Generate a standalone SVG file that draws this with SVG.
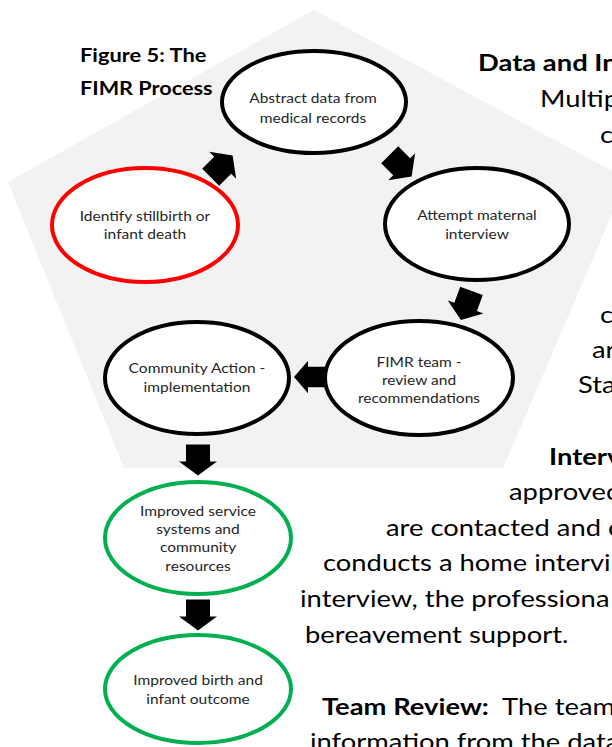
<svg xmlns="http://www.w3.org/2000/svg" width="612" height="747" viewBox="0 0 612 747">
<style>
.bg{fill:#f2f2f2}
.node{fill:#ffffff;stroke-width:4}
.blk{stroke:#000000}
.red{stroke:#ff0000}
.grn{stroke:#00b050}
.nt{font-family:Lato,"Open Sans","Liberation Sans",sans-serif;font-size:14px;fill:#262626;text-anchor:middle}
.body{font-family:Lato,"Open Sans","Liberation Sans",sans-serif;font-size:23px;fill:#000000}
.b{font-weight:bold}
.pre{white-space:pre}
.cap{font-family:Lato,"Open Sans","Liberation Sans",sans-serif;font-size:19px;font-weight:bold;fill:#000000}
.arr{fill:#000000}
</style>
<defs>
<path id="blockArrow" d="M-16,-12 L1,-12 L1,-19 L15,0 L1,19 L1,12 L-16,12 Z"/>
</defs>
<polygon class="bg" points="314,10 627,179 503,468 124,468 8,182"/>
<g id="caption">
<text class="cap" transform="translate(80,62) scale(1.15,1)">Figure 5: The</text>
<text class="cap" transform="translate(80,95) scale(1.14,1)">FIMR Process</text>
</g>
<g id="connectors">
<use href="#blockArrow" class="arr" transform="translate(222,166) rotate(-45)"/>
<use href="#blockArrow" class="arr" transform="translate(401,166) rotate(45)"/>
<use href="#blockArrow" class="arr" transform="translate(466,306) rotate(110)"/>
<use href="#blockArrow" class="arr" transform="translate(309,377) rotate(180) scale(1,0.85)"/>
<use href="#blockArrow" class="arr" transform="translate(198,460.5) rotate(90)"/>
<use href="#blockArrow" class="arr" transform="translate(198,615.5) rotate(90)"/>
</g>
<g id="abstract">
<ellipse class="node blk" cx="314" cy="102" rx="92" ry="51"/>
<text class="nt" transform="translate(313,103) scale(1.11,1)">Abstract data from</text>
<text class="nt" transform="translate(313,123) scale(1.11,1)">medical records</text>
</g>
<g id="identify">
<ellipse class="node red" cx="145" cy="225" rx="93" ry="57"/>
<text class="nt" transform="translate(145,221) scale(1.11,1)">Identify stillbirth or</text>
<text class="nt" transform="translate(145,239) scale(1.11,1)">infant death</text>
</g>
<g id="attempt">
<ellipse class="node blk" cx="477" cy="224" rx="92" ry="56"/>
<text class="nt" transform="translate(477,220) scale(1.11,1)">Attempt maternal</text>
<text class="nt" transform="translate(477,239) scale(1.11,1)">interview</text>
</g>
<g id="fimr">
<ellipse class="node blk" cx="419" cy="378" rx="94" ry="57"/>
<text class="nt" transform="translate(419,367) scale(1.11,1)">FIMR team -</text>
<text class="nt" transform="translate(419,385) scale(1.11,1)">review and</text>
<text class="nt" transform="translate(419,403) scale(1.11,1)">recommendations</text>
</g>
<g id="community">
<ellipse class="node blk" cx="197" cy="378" rx="92" ry="56"/>
<text class="nt" transform="translate(197,373) scale(1.11,1)">Community Action -</text>
<text class="nt" transform="translate(197,392) scale(1.11,1)">implementation</text>
</g>
<g id="improved-service">
<ellipse class="node grn" cx="198" cy="538" rx="93" ry="56"/>
<text class="nt" transform="translate(198,516) scale(1.11,1)">Improved service</text>
<text class="nt" transform="translate(198,534) scale(1.11,1)">systems and</text>
<text class="nt" transform="translate(198,552) scale(1.11,1)">community</text>
<text class="nt" transform="translate(198,571) scale(1.11,1)">resources</text>
</g>
<g id="improved-birth">
<ellipse class="node grn" cx="198" cy="689" rx="93" ry="54"/>
<text class="nt" transform="translate(198,685) scale(1.11,1)">Improved birth and</text>
<text class="nt" transform="translate(198,704) scale(1.11,1)">infant outcome</text>
</g>
<g id="body-text">
<text class="body b" transform="translate(478,71) scale(1.19,1)">Data and In</text>
<text class="body" transform="translate(540,107) scale(1.19,1)">Multip</text>
<text class="body" transform="translate(600,143) scale(1.19,1)">c</text>
<text class="body" transform="translate(600,323) scale(1.19,1)">c</text>
<text class="body" transform="translate(592,358) scale(1.19,1)">ar</text>
<text class="body" transform="translate(578,393) scale(1.19,1)">Sta</text>
<text class="body b" transform="translate(549,465) scale(1.19,1)">Interv</text>
<text class="body" transform="translate(509,500) scale(1.19,1)">approvec</text>
<text class="body" transform="translate(386,536) scale(1.19,1)">are contacted and c</text>
<text class="body" transform="translate(323,571) scale(1.19,1)">conducts a home intervi</text>
<text class="body" transform="translate(300,607) scale(1.19,1)">interview, the professiona</text>
<text class="body" transform="translate(305,643) scale(1.19,1)">bereavement support.</text>
<text class="body pre" xml:space="preserve" transform="translate(322,715) scale(1.19,1)"><tspan class="b">Team Review:</tspan>  The team</text>
<text class="body" transform="translate(310,750) scale(1.19,1)">information from the data</text>
</g>
</svg>
